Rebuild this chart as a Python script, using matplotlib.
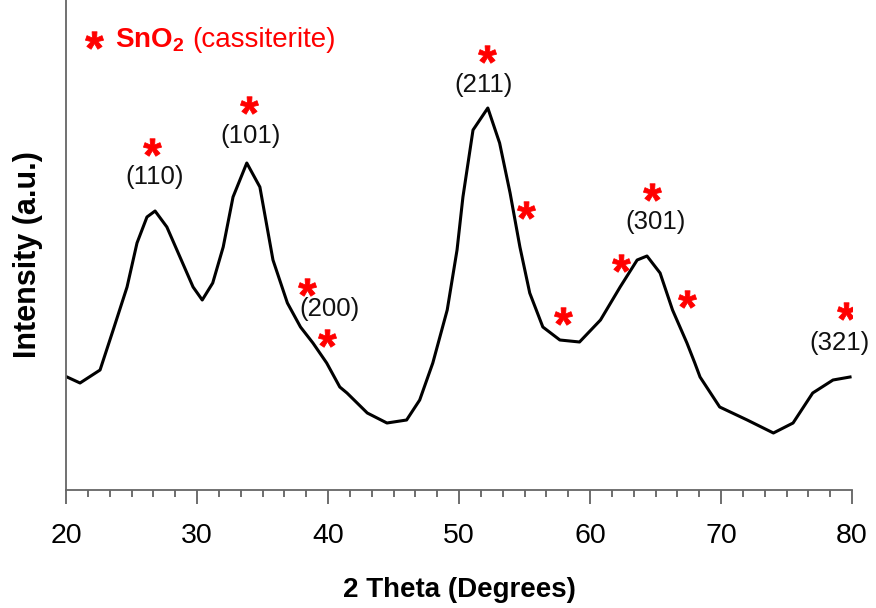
import matplotlib
matplotlib.use("Agg")
import matplotlib.pyplot as plt
from matplotlib.ticker import MultipleLocator, NullLocator

plt.rcParams['font.family'] = ['Liberation Sans', 'DejaVu Sans']
plt.rcParams['mathtext.fontset'] = 'custom'
plt.rcParams['mathtext.rm'] = 'Liberation Sans:bold'
plt.rcParams['mathtext.bf'] = 'Liberation Sans:bold'

# XRD pattern (2 theta in degrees, intensity in a.u.)
two_theta = [20.08, 21.07, 22.6, 23.6, 24.66, 25.42, 26.18, 26.8, 27.7, 28.7,
             29.7, 30.4, 31.2, 32.0, 32.75, 33.8, 34.8, 35.8, 36.9, 37.9,
             38.85, 39.9, 40.9, 41.45, 43.0, 44.5, 46.0, 47.0, 48.0, 49.1,
             49.85, 50.3, 51.07, 52.2, 53.1, 53.9, 54.65, 55.4, 56.4, 57.7,
             59.2, 60.8, 62.3, 63.6, 64.35, 65.35, 66.3, 67.4, 68.0, 68.4,
             69.9, 72.0, 74.0, 75.5, 77.0, 78.55, 79.85]
intensity = [113, 107, 120, 160, 203, 247, 273, 279, 263, 233,
             203, 190, 207, 243, 293, 327, 303, 230, 187, 163,
             147, 127, 103, 97, 77, 67, 70, 90, 127, 180,
             240, 293, 360, 382, 347, 297, 243, 197, 163, 150,
             148, 170, 203, 230, 234, 217, 180, 147, 127, 113,
             83, 70, 57, 67, 97, 110, 113]

# SnO2 reflections marked with asterisks
star_theta = [26.56, 33.97, 38.4, 39.92, 52.14, 55.1, 57.94, 62.37, 64.73, 67.4, 79.54]
star_level = [343, 385, 203, 152, 436, 280, 174, 227, 298, 191, 179]

# Miller indices
hkl_labels = ['(110)', '(101)', '(200)', '(211)', '(301)', '(321)']
hkl_theta = [26.8, 34.12, 40.08, 51.9, 65.04, 79.08]
hkl_level = [313, 354, 181, 405, 268, 147]

fig = plt.figure(figsize=(8.76, 6.08), dpi=100)
ax = fig.add_axes([66 / 876, 1 - 490 / 608, (852 - 66) / 876, 490 / 608])

ax.plot(two_theta, intensity, color='black', lw=2.2, solid_joinstyle='round')
ax.plot(star_theta, star_level, linestyle='none', marker='$*$', markersize=13,
        color='#ff0000', mec='#ff0000', mew=0.6)
for lab, x, y in zip(hkl_labels, hkl_theta, hkl_level):
    ax.text(x, y, lab, fontsize=18.5, ha='center', va='center', color='#111111')

ax.set_xlim(20, 80)
ax.set_ylim(0, 490)
ax.xaxis.set_major_locator(MultipleLocator(10))
ax.xaxis.set_minor_locator(MultipleLocator(10 / 6))
ax.yaxis.set_major_locator(NullLocator())
ax.tick_params(axis='x', which='major', direction='out', length=10, width=1.2,
               color='#555555', labelsize=20.5, pad=14)
ax.tick_params(axis='x', which='minor', direction='out', length=5, width=1.2,
               color='#555555')
for side in ['top', 'right']:
    ax.spines[side].set_visible(False)
for side in ['left', 'bottom']:
    ax.spines[side].set_color('#666666')
    ax.spines[side].set_linewidth(1.3)

ax.set_xlabel('2 Theta (Degrees)', fontsize=20, fontweight='bold')
ax.xaxis.set_label_coords(0.5, -0.178)
ax.set_ylabel('Intensity (a.u.)', fontsize=22, fontweight='bold')
ax.yaxis.set_label_coords(-0.029, 0.48)

# legend-like note
fig.lines.append(plt.Line2D([94 / 876], [1 - 40 / 608], transform=fig.transFigure,
                            linestyle='none', marker='$*$', markersize=13,
                            color='#ff0000', mec='#ff0000', mew=0.6))
fig.text(115 / 876, 1 - 40 / 608, r'$\mathbf{SnO_2}$', fontsize=20,
         color='#ff0000', ha='left', va='center')
fig.text(192 / 876, 1 - 40 / 608, '(cassiterite)', fontsize=20,
         color='#ff0000', ha='left', va='center')

fig.savefig('out.png', dpi=100)
